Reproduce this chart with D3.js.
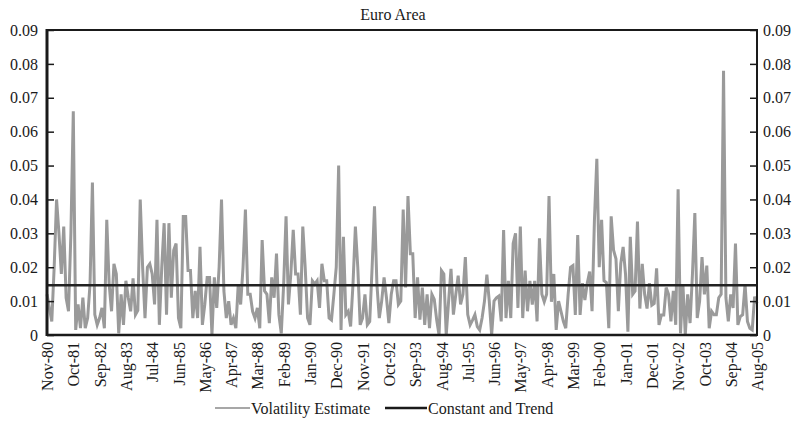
<!DOCTYPE html>
<html><head><meta charset="utf-8">
<script src="https://cdn.jsdelivr.net/npm/d3@7"></script>
<style>
body{margin:0;background:#fff}
svg text{font-family:"Liberation Serif","DejaVu Serif",serif !important;fill:#1a1a1a}
</style>
</head><body>
<svg id="chart" width="804" height="424" font-family="Liberation Serif"></svg>
<script>
// Monthly observations, Nov-80 .. Aug-05
const tickLabels = ["Nov-80","Oct-81","Sep-82","Aug-83","Jul-84","Jun-85","May-86","Apr-87","Mar-88","Feb-89","Jan-90","Dec-90","Nov-91","Oct-92","Sep-93","Aug-94","Jul-95","Jun-96","May-97","Apr-98","Mar-99","Feb-00","Jan-01","Dec-01","Nov-02","Oct-03","Sep-04","Aug-05"];
const tickStep = 11; // months between tick labels
const yTicks = [0,0.01,0.02,0.03,0.04,0.05,0.06,0.07,0.08,0.09];
const volatility = [
0.012,0.008,0.004,0.020,0.040,0.030,0.018,0.032,0.011,0.007,
0.030,0.066,0.0015,0.009,0.002,0.011,0.002,0.005,0.015,0.045,
0.006,0.003,0.005,0.008,0.002,0.034,0.015,0.007,0.021,0.018,
0.0005,0.012,0.003,0.016,0.011,0.007,0.0167,0.006,0.0073,0.040,
0.020,0.005,0.020,0.021,0.018,0.009,0.034,0.003,0.020,0.033,
0.006,0.033,0.011,0.025,0.027,0.005,0.002,0.035,0.035,0.019,
0.019,0.005,0.013,0.005,0.026,0.003,0.009,0.017,0.017,0.000,
0.017,0.008,0.020,0.040,0.013,0.005,0.010,0.003,0.005,0.002,
0.015,0.009,0.020,0.037,0.012,0.012,0.007,0.005,0.008,0.002,
0.028,0.013,0.012,0.0035,0.017,0.011,0.024,0.006,0.0005,0.015,
0.035,0.009,0.018,0.031,0.018,0.018,0.006,0.032,0.020,0.005,
0.003,0.016,0.015,0.016,0.008,0.021,0.016,0.016,0.005,0.0044,
0.012,0.020,0.050,0.0015,0.029,0.006,0.007,0.0025,0.015,0.032,
0.020,0.003,0.005,0.012,0.003,0.004,0.020,0.038,0.015,0.005,
0.010,0.017,0.011,0.0035,0.012,0.016,0.016,0.009,0.010,0.037,
0.014,0.041,0.024,0.024,0.005,0.017,0.0045,0.014,0.003,0.012,
0.002,0.012,0.0105,0.0045,0.000,0.019,0.018,0.000,0.010,0.0195,
0.006,0.012,0.0175,0.009,0.012,0.023,0.006,0.003,0.0044,0.006,
0.0025,0.0015,0.005,0.010,0.0178,0.010,0.000,0.010,0.011,0.0115,
0.004,0.031,0.005,0.016,0.005,0.027,0.030,0.008,0.032,0.005,
0.019,0.007,0.016,0.009,0.016,0.004,0.0285,0.012,0.0098,0.012,
0.041,0.0098,0.018,0.0015,0.010,0.007,0.004,0.002,0.012,0.020,
0.0205,0.0059,0.0295,0.0059,0.0153,0.0103,0.0153,0.0187,0.007,0.034,
0.052,0.020,0.034,0.016,0.0155,0.002,0.035,0.025,0.0225,0.007,
0.021,0.026,0.018,0.001,0.029,0.012,0.013,0.0335,0.0078,0.021,
0.012,0.0078,0.0153,0.0088,0.0093,0.0197,0.003,0.0059,0.0059,0.014,
0.012,0.004,0.013,0.003,0.043,0.0005,0.015,0.000,0.012,0.0035,
0.018,0.036,0.005,0.010,0.023,0.012,0.0205,0.002,0.007,0.006,
0.006,0.011,0.012,0.078,0.011,0.004,0.012,0.008,0.027,0.003,
0.0054,0.006,0.015,0.004,0.002,0.0015,0.0113,0.0093
];
const trend = [0.0147, 0.0147]; // constant and trend, first and last month
const seriesNames = ["Volatility Estimate","Constant and Trend"];
const title = "Euro Area";

const svg = d3.select("#chart");
const L = 47, R = 757, T = 30, B = 335;
const x = d3.scaleLinear().domain([0, volatility.length - 1]).range([L, R]);
const y = d3.scaleLinear().domain([0, 0.09]).range([B, T]);
const fmt = d => d === 0 ? "0" : d3.format(".2f")(d);
const FONT = "Liberation Serif";

// title
svg.append("text").attr("x", 393).attr("y", 20).attr("text-anchor", "middle")
  .attr("font-family", FONT).style("font-size", "16px").text(title);

// data line
const line = d3.line().x((d, i) => x(i)).y(d => y(d));
svg.append("path").datum(volatility).attr("d", line)
  .attr("fill", "none").attr("stroke", "#9a9a9a").attr("stroke-width", 3)
  .attr("stroke-linejoin", "miter");

// trend line
svg.append("path").datum(trend)
  .attr("d", d3.line().x((d, i) => x(i * (volatility.length - 1))).y(d => y(d)))
  .attr("fill", "none").attr("stroke", "#222").attr("stroke-width", 2.5);

// axes
const yl = svg.append("g").attr("transform", `translate(${L},0)`)
  .call(d3.axisLeft(y).tickValues(yTicks).tickSize(-7).tickPadding(9).tickFormat(fmt));
const yr = svg.append("g").attr("transform", `translate(${R},0)`)
  .call(d3.axisRight(y).tickValues(yTicks).tickSize(-7).tickPadding(6).tickFormat(fmt));
[yl, yr].forEach(g => {
  g.attr("font-family", FONT);
  g.select(".domain").remove();
  g.selectAll(".tick line").attr("stroke", "#1a1a1a").attr("stroke-width", 1.5);
  g.selectAll("text").attr("font-family", FONT).style("font-size", "16px").attr("fill", "#1a1a1a");
});

const xt = svg.append("g").attr("transform", `translate(0,${B})`)
  .call(d3.axisBottom(x).tickValues(tickLabels.map((d, i) => i * tickStep)).tickSize(0)
    .tickFormat((d, i) => tickLabels[i]));
xt.attr("font-family", FONT);
xt.select(".domain").remove();
xt.selectAll("text").attr("transform", "rotate(-90)").attr("x", -7).attr("y", 0)
  .attr("dy", "0.35em").style("text-anchor", "end").attr("font-family", FONT)
  .style("font-size", "16px").attr("fill", "#1a1a1a");

// frame
svg.append("line").attr("x1", L).attr("x2", R).attr("y1", T).attr("y2", T).attr("stroke", "#1a1a1a").attr("stroke-width", 2);
svg.append("line").attr("x1", L).attr("x2", R).attr("y1", B).attr("y2", B).attr("stroke", "#1a1a1a").attr("stroke-width", 2.5);
svg.append("line").attr("x1", R).attr("x2", R).attr("y1", T - 1).attr("y2", B + 1).attr("stroke", "#1a1a1a").attr("stroke-width", 2);
svg.append("line").attr("x1", L).attr("x2", L).attr("y1", T - 1).attr("y2", B + 1).attr("stroke", "#1a1a1a").attr("stroke-width", 3);

// legend
const leg = [
  {name: seriesNames[0], x1: 215, x2: 250, color: "#8a8a8a", w: 1.5},
  {name: seriesNames[1], x1: 385, x2: 427, color: "#1a1a1a", w: 2.5}
];
const lg = svg.append("g").attr("font-family", FONT);
leg.forEach(d => {
  lg.append("line").attr("x1", d.x1).attr("x2", d.x2).attr("y1", 408).attr("y2", 408)
    .attr("stroke", d.color).attr("stroke-width", d.w);
  lg.append("text").attr("x", d.x2 + 1).attr("y", 408).attr("dy", "0.35em")
    .attr("font-family", FONT).style("font-size", "16px").text(d.name);
});
</script>
</body></html>
